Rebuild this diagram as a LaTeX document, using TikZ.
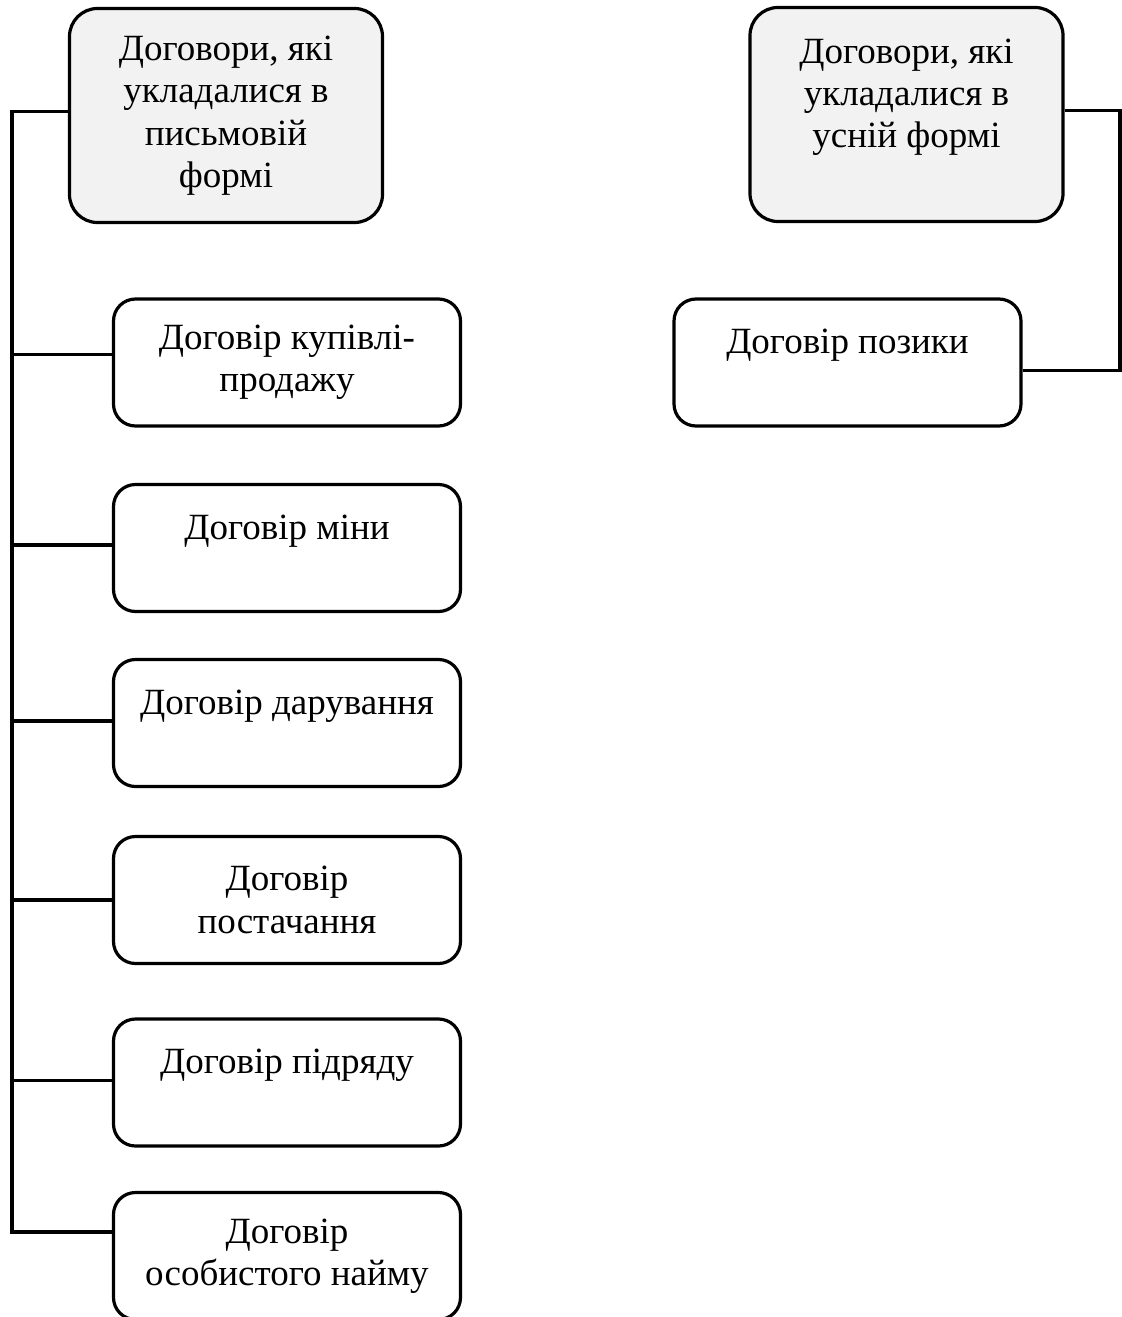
\documentclass[tikz,border=0pt]{standalone}
\usepackage{fontspec}
\setmainfont{Liberation Serif}
\definecolor{headgray}{HTML}{F2F2F2}
\begin{document}
\begin{tikzpicture}[x=0.5pt,y=-0.5pt]
  \tikzset{
    headbox/.style={draw,line width=1.6pt,rounded corners=14pt,fill=headgray,
      minimum width=156.5pt,minimum height=107pt,align=center,
      font=\fontsize{18.5}{21.2}\selectfont},
    itembox/.style={draw,line width=1.6pt,rounded corners=11pt,
      minimum width=173.5pt,minimum height=63.5pt,align=center,
      font=\fontsize{18.5}{21.2}\selectfont},
    link/.style={line width=1.6pt}
  }
  \useasboundingbox (0,0) rectangle (1121,1317);
  % heads
  \node[headbox] (written) at (226,115.5) {Договори, які\\укладалися в\\письмовій\\формі};
  \node[headbox] (oral) at (906.5,114.5) {Договори, які\\укладалися в\\усній формі\\~};
  % written contracts
  \node[itembox] (item1) at (287,362.5) {Договір купівлі-\\продажу};
  \node[itembox] (item2) at (287,548) {Договір міни\\~};
  \node[itembox] (item3) at (287,723) {Договір дарування\\~};
  \node[itembox] (item4) at (287,900) {Договір\\постачання};
  \node[itembox] (item5) at (287,1082.5) {Договір підряду\\~};
  \node[itembox] (item6) at (287,1256) {Договір\\особистого найму};
  % oral contracts
  \node[itembox] (loan) at (847.5,362.5) {Договір позики\\~};
  % connectors
  \coordinate (trunk) at (12,0);
  \coordinate (rtrunk) at (1120,0);
  \draw[link] ([yshift=2pt]written.west) -| ([yshift=12pt]trunk |- item6.west) -- ([yshift=12pt]item6.west);
  \foreach \i/\s in {1/4,2/1.5,3/1,4/0,5/1}
    \draw[link] ([yshift=\s pt]trunk |- item\i.west) -- ([yshift=\s pt]item\i.west);
  \draw[link] ([yshift=2pt]oral.east) -| ([yshift=-4pt]rtrunk |- loan.east) -- ([yshift=-4pt]loan.east);
\end{tikzpicture}
\end{document}
